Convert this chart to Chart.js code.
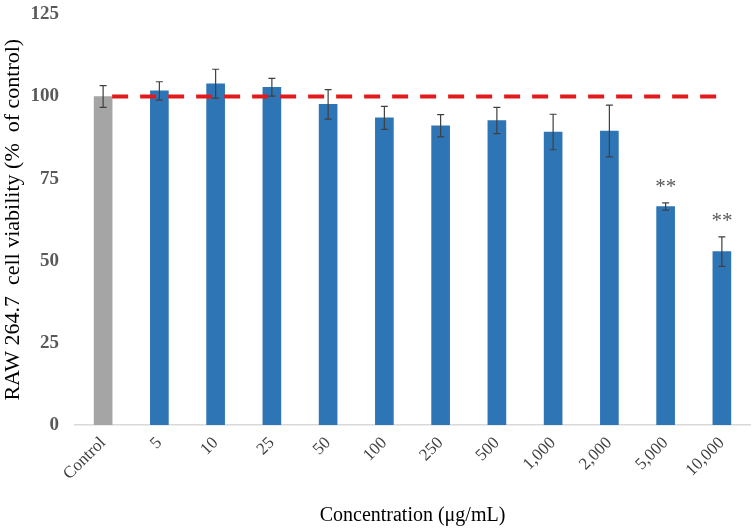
<!DOCTYPE html>
<html>
<head>
<meta charset="utf-8">
<script src="https://cdn.jsdelivr.net/npm/chart.js@4/dist/chart.umd.min.js"></script>
<style>
  html, body { margin: 0; padding: 0; background: #fff; overflow: hidden; }
  #wrap { width: 756px; height: 532px; overflow: hidden; }
  #barChart { margin-top: -13px; display: block; }
</style>
</head>
<body>
<div id="wrap"><canvas id="barChart" width="756" height="545"></canvas></div>
<script>
const labels = ['Control', '5', '10', '25', '50', '100', '250', '500', '1,000', '2,000', '5,000', '10,000'];
const viability = [100, 101.7, 103.9, 102.8, 97.6, 93.5, 91.1, 92.7, 89.2, 89.5, 66.5, 52.8];
const errors = [3.3, 2.8, 4.4, 2.7, 4.5, 3.5, 3.4, 4.0, 5.4, 7.9, 1.1, 4.5];
const marks = ['', '', '', '', '', '', '', '', '', '', '**', '**'];
const controlLevel = 100;
const yTicks = [0, 25, 50, 75, 100, 125];

const serif = '"Liberation Serif", "Times New Roman", serif';
const barColors = labels.map((l, i) => i === 0 ? '#a5a5a5' : '#2e75b6');

// dashed control line + error bars + significance stars
const overlay = {
  id: 'overlay',
  afterDatasetsDraw(c) {
    const ctx = c.ctx;
    const x = c.scales.x, y = c.scales.y;
    const meta = c.getDatasetMeta(0);
    const half = meta.data[0].width / 2;

    // red dashed line at control level
    ctx.save();
    ctx.strokeStyle = '#e31a1c';
    ctx.lineWidth = 4;
    ctx.setLineDash([16, 12]);
    const yl = y.getPixelForValue(controlLevel);
    ctx.beginPath();
    ctx.moveTo(x.getPixelForValue(0) + half, yl);
    ctx.lineTo(x.getPixelForValue(labels.length - 1) - 4, yl);
    ctx.stroke();
    ctx.restore();

    ctx.save();
    ctx.strokeStyle = '#404040';
    ctx.lineWidth = 1.2;
    viability.forEach((v, i) => {
      const px = x.getPixelForValue(i);
      const top = y.getPixelForValue(v + errors[i]);
      const bot = y.getPixelForValue(v - errors[i]);
      ctx.beginPath();
      ctx.moveTo(px, top); ctx.lineTo(px, bot);
      ctx.moveTo(px - 3.5, top); ctx.lineTo(px + 3.5, top);
      ctx.moveTo(px - 3.5, bot); ctx.lineTo(px + 3.5, bot);
      ctx.stroke();
      if (marks[i]) {
        ctx.fillStyle = '#595959';
        ctx.font = '21px ' + serif;
        ctx.textAlign = 'center';
        ctx.textBaseline = 'bottom';
        ctx.fillText(marks[i], px, top - 5);
      }
    });
    ctx.restore();
  }
};

const ctx = document.getElementById('barChart').getContext('2d');
new Chart(ctx, {
  type: 'bar',
  data: {
    labels: labels,
    datasets: [{
      data: viability,
      backgroundColor: barColors,
      barThickness: 18
    }]
  },
  options: {
    responsive: false,
    animation: false,
    layout: { padding: { top: 0, right: 6, left: 0, bottom: 0 } },
    plugins: { legend: { display: false }, tooltip: { enabled: false } },
    scales: {
      x: {
        grid: { display: false, drawTicks: false },
        border: { color: '#d9d9d9', width: 1.5 },
        ticks: {
          minRotation: 45, maxRotation: 45, padding: 8,
          color: '#404040',
          font: { family: serif, size: 17 }
        },
        title: {
          display: true, text: 'Concentration (μg/mL)',
          color: '#000', font: { family: serif, size: 20 },
          padding: { top: 4, bottom: 4 }
        },
        afterFit(s) { s.height = 107; }
      },
      y: {
        min: 0, max: 125,
        afterBuildTicks(s) { s.ticks = yTicks.map(v => ({ value: v })); },
        grid: { display: false, drawTicks: false },
        border: { display: false },
        ticks: {
          padding: 16,
          color: '#595959',
          font: { family: serif, size: 19, weight: 'bold' }
        },
        title: {
          display: true, text: 'RAW 264.7  cell viability (%  of control)',
          color: '#000', font: { family: serif, size: 22 },
          padding: { top: 0, bottom: 2 }
        },
        afterFit(s) { s.width = 75; }
      }
    }
  },
  plugins: [overlay]
});
</script>
</body>
</html>
